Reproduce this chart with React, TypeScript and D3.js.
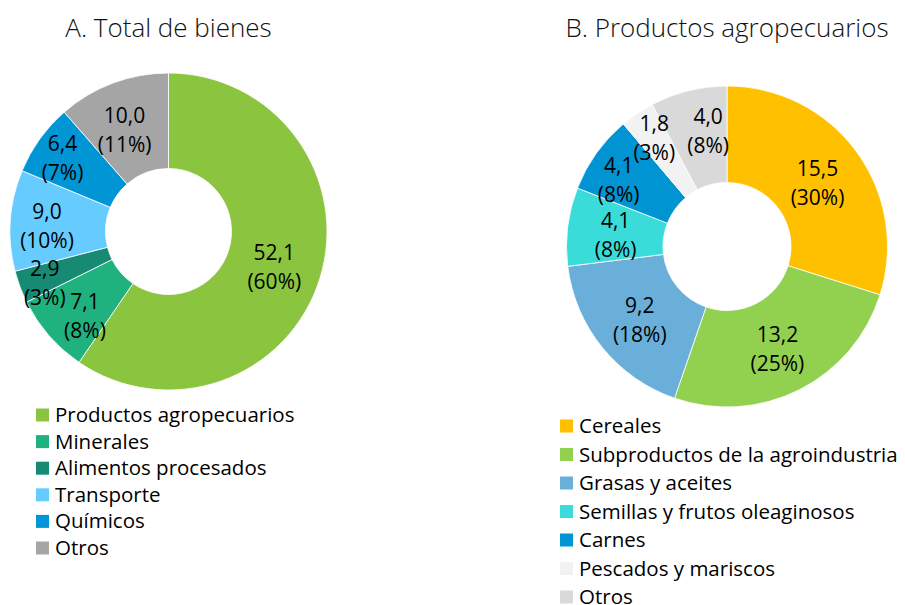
import React from 'react';
import * as d3 from 'd3';

// A. Total de bienes
const catsA = ['Productos agropecuarios', 'Minerales', 'Alimentos procesados', 'Transporte', 'Químicos', 'Otros'];
const valsA = [52.1, 7.1, 2.9, 9.0, 6.4, 10.0];
const pctA = [60, 8, 3, 10, 7, 11];
const colorsA = ['#8BC53F', '#1FB27E', '#178A74', '#66CCFF', '#0096D6', '#A5A5A5'];

// B. Productos agropecuarios
const catsB = ['Cereales', 'Subproductos de la agroindustria', 'Grasas y aceites', 'Semillas y frutos oleaginosos', 'Carnes', 'Pescados y mariscos', 'Otros'];
const valsB = [15.5, 13.2, 9.2, 4.1, 4.1, 1.8, 4.0];
const pctB = [30, 25, 18, 8, 8, 3, 8];
const colorsB = ['#FFC000', '#92D050', '#6AAFDA', '#3ADCDA', '#0094D3', '#F2F2F2', '#D9D9D9'];

// label nudges (like Excel's "best fit") for crowded small slices
const nudgeA: Record<string, [number, number]> = {
  'Minerales': [0, 9],
  'Alimentos procesados': [-20, 10],
  'Transporte': [-11, 0],
  'Químicos': [-16, -11],
  'Otros': [-5, 0],
};
const nudgeB: Record<string, [number, number]> = {
  'Carnes': [-17, -4],
  'Pescados y mariscos': [-10, -18],
  'Otros': [8, -9],
};

const W = 905;
const H = 605;
const FONT = '"Open Sans", "Noto Sans", sans-serif';

const fmt = (v: number) => v.toFixed(1).replace('.', ',');

function Donut(props: any) {
  const { cx, cy, r0, r1, cats, vals, pcts, colors, nudge, title, titleY, legendX, legendY, legendStep } = props;
  const pie = d3.pie<number>().sort(null).value((d) => d);
  const arcs = pie(vals);
  const arc = d3.arc<d3.PieArcDatum<number>>().innerRadius(r0).outerRadius(r1);

  return (
    <g>
      <text x={cx} y={titleY} textAnchor="middle" fontSize={26} fontWeight={300} fill="#111">{title}</text>
      <g transform={`translate(${cx},${cy})`}>
        {arcs.map((a, i) => (
          <path key={i} d={arc(a) || ''} fill={colors[i]} stroke="#fff" strokeWidth={0.8} />
        ))}
        {arcs.map((a, i) => {
          const [x0, y0] = arc.centroid(a);
          const n = nudge[cats[i]] || [0, 0];
          const x = x0 + n[0];
          const y = y0 + n[1];
          return (
            <text key={'l' + i} x={x} y={y} textAnchor="middle" fontSize={21} fill="#000">
              <tspan x={x} dy={-4.5}>{fmt(vals[i])}</tspan>
              <tspan x={x} dy={29}>{`(${pcts[i]}%)`}</tspan>
            </text>
          );
        })}
      </g>
      <g>
        {cats.map((c: string, i: number) => (
          <g key={c} transform={`translate(${legendX},${legendY + i * legendStep})`}>
            <rect x={0} y={-6.5} width={13} height={13} fill={colors[i]} />
            <text x={19} y={7} fontSize={20.5} fill="#000">{c}</text>
          </g>
        ))}
      </g>
    </g>
  );
}

export default function App() {
  return (
    <svg width={W} height={H} style={{ position: 'absolute', left: 0, top: 0, background: '#fff' }} fontFamily={FONT}>
      <Donut cx={168.5} cy={231.5} r0={63} r1={158.5}
        cats={catsA} vals={valsA} pcts={pctA} colors={colorsA} nudge={nudgeA}
        title="A. Total de bienes" titleY={37}
        legendX={36} legendY={415} legendStep={26.6} />
      <Donut cx={727} cy={246.5} r0={64} r1={160.5}
        cats={catsB} vals={valsB} pcts={pctB} colors={colorsB} nudge={nudgeB}
        title="B. Productos agropecuarios" titleY={37}
        legendX={560} legendY={426} legendStep={28.5} />
    </svg>
  );
}
